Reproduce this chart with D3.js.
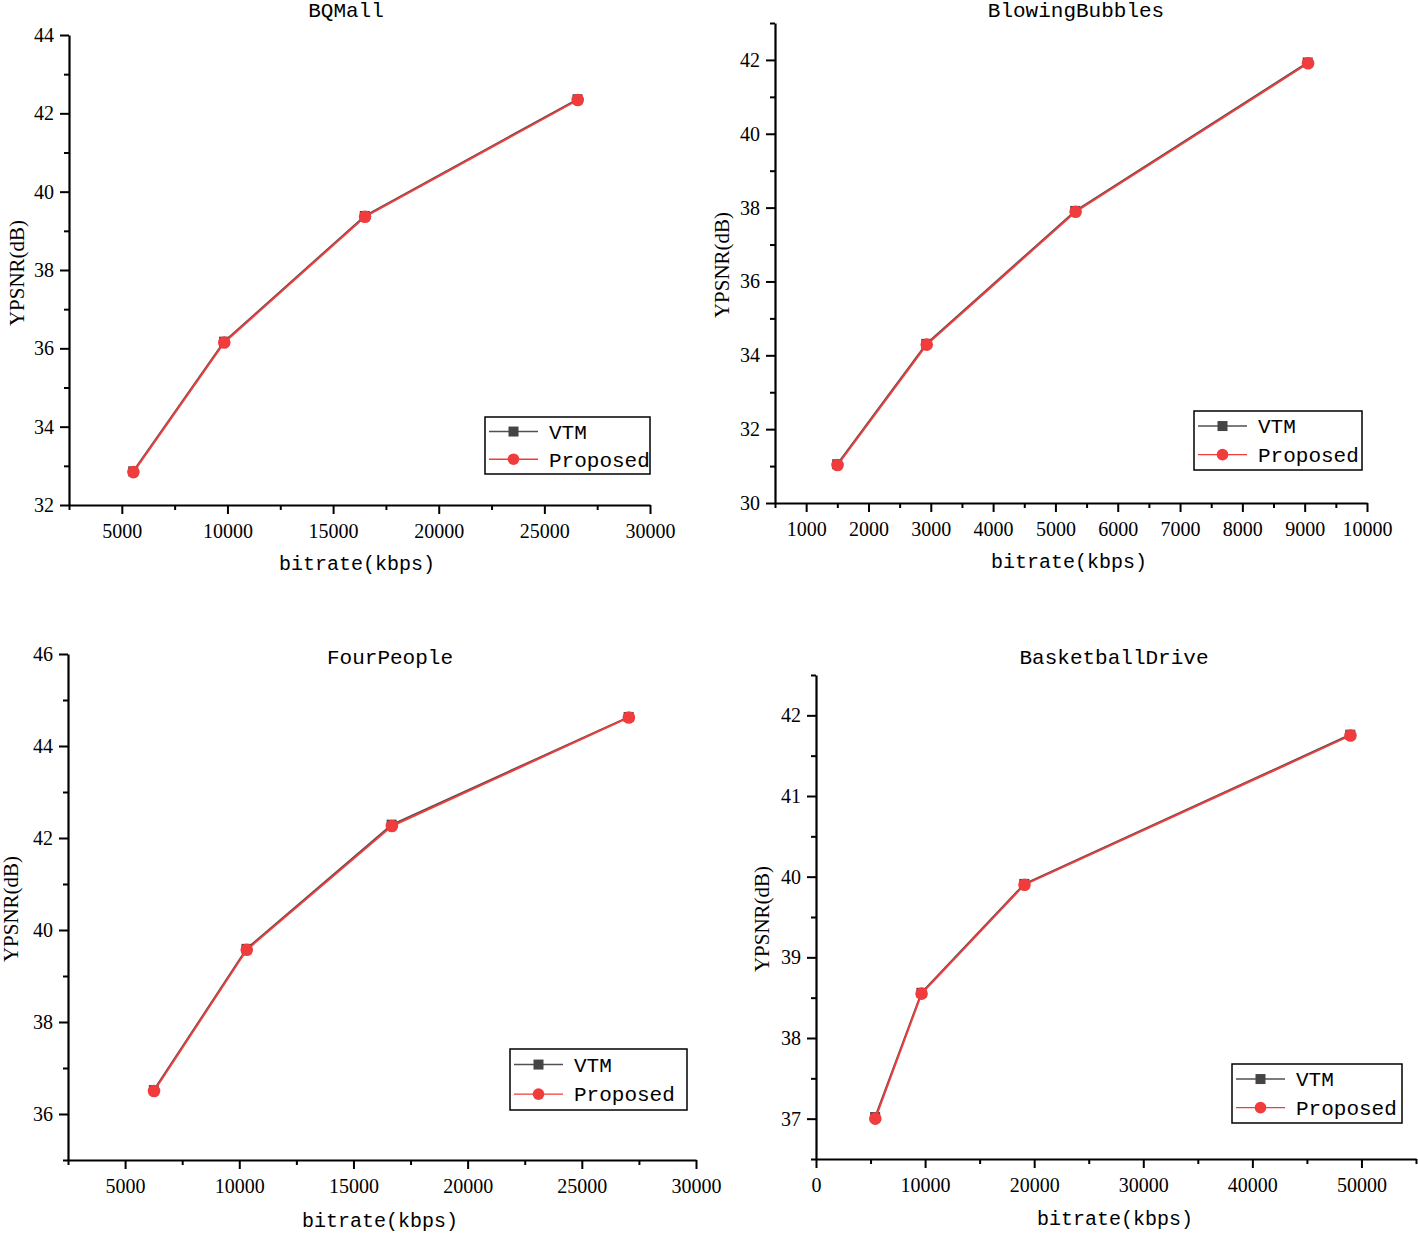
<!DOCTYPE html>
<html>
<head>
<meta charset="utf-8">
<script src="https://cdn.jsdelivr.net/npm/d3@7"></script>
<style>
  html, body { margin: 0; padding: 0; background: #fff; }
  svg { display: block; }
</style>
</head>
<body>
<svg id="chart" width="1418" height="1233"></svg>
<script>
// ---------------- DATA ----------------
const seriesNames = ["VTM", "Proposed"];

// BQMall
const bqmallBitrateVTM = [5540, 9840, 16500, 26570];
const bqmallPsnrVTM = [32.86, 36.17, 39.38, 42.36];
const bqmallBitrateProp = [5548, 9849, 16512, 26579];
const bqmallPsnrProp = [32.84, 36.15, 39.36, 42.34];
const bqmallXTicks = [5000, 10000, 15000, 20000, 25000, 30000];
const bqmallXMinor = [2500, 7500, 12500, 17500, 22500, 27500];
const bqmallYTicks = [32, 34, 36, 38, 40, 42, 44];
const bqmallYMinor = [33, 35, 37, 39, 41, 43];

// BlowingBubbles
const bubblesBitrateVTM = [1498, 2928, 5318, 9048];
const bubblesPsnrVTM = [31.05, 34.31, 37.91, 41.93];
const bubblesBitrateProp = [1504, 2935, 5324, 9054];
const bubblesPsnrProp = [31.03, 34.29, 37.89, 41.91];
const bubblesXTicks = [1000, 2000, 3000, 4000, 5000, 6000, 7000, 8000, 9000, 10000];
const bubblesXMinor = [500, 1500, 2500, 3500, 4500, 5500, 6500, 7500, 8500, 9500];
const bubblesYTicks = [30, 32, 34, 36, 38, 40, 42];
const bubblesYMinor = [31, 33, 35, 37, 39, 41, 43];

// FourPeople
const fourBitrateVTM = [6260, 10318, 16672, 27050];
const fourPsnrVTM = [36.52, 39.59, 42.29, 44.63];
const fourBitrateProp = [6267, 10327, 16683, 27060];
const fourPsnrProp = [36.50, 39.57, 42.26, 44.62];
const fourXTicks = [5000, 10000, 15000, 20000, 25000, 30000];
const fourXMinor = [2500, 7500, 12500, 17500, 22500, 27500];
const fourYTicks = [36, 38, 40, 42, 44, 46];
const fourYMinor = [35, 37, 39, 41, 43, 45];

// BasketballDrive
const basketBitrateVTM = [5420, 9665, 19095, 48975];
const basketPsnrVTM = [37.02, 38.56, 39.91, 41.76];
const basketBitrateProp = [5435, 9679, 19111, 48992];
const basketPsnrProp = [37.00, 38.55, 39.90, 41.75];
const basketXTicks = [0, 10000, 20000, 30000, 40000, 50000];
const basketXMinor = [5000, 15000, 25000, 35000, 45000, 55000];
const basketYTicks = [37, 38, 39, 40, 41, 42];
const basketYMinor = [36.5, 37.5, 38.5, 39.5, 40.5, 41.5, 42.5];

// ---------------- LAYOUT ----------------
const panels = [
  { title: "BQMall", xDomain: [2500, 30000], yDomain: [32, 44],
    left: 69, right: 650, top: 35, bottom: 505,
    titleX: 346, titleY: 17, xLabelX: 357, xLabelY: 570, yLabelX: 24, yLabelY: 273,
    legend: { x: 485, y: 417, w: 165, h: 57 },
    vtm: [bqmallBitrateVTM, bqmallPsnrVTM], prop: [bqmallBitrateProp, bqmallPsnrProp],
    xTicks: bqmallXTicks, xMinor: bqmallXMinor, yTicks: bqmallYTicks, yMinor: bqmallYMinor },
  { title: "BlowingBubbles", xDomain: [500, 10000], yDomain: [30, 43],
    left: 775, right: 1367, top: 23, bottom: 503,
    titleX: 1076, titleY: 17, xLabelX: 1069, xLabelY: 568, yLabelX: 729, yLabelY: 265,
    legend: { x: 1194, y: 411, w: 168, h: 59 },
    vtm: [bubblesBitrateVTM, bubblesPsnrVTM], prop: [bubblesBitrateProp, bubblesPsnrProp],
    xTicks: bubblesXTicks, xMinor: bubblesXMinor, yTicks: bubblesYTicks, yMinor: bubblesYMinor },
  { title: "FourPeople", xDomain: [2500, 30000], yDomain: [35, 46],
    left: 68, right: 696, top: 654, bottom: 1160,
    titleX: 390, titleY: 664, xLabelX: 380, xLabelY: 1227, yLabelX: 18, yLabelY: 909,
    legend: { x: 510, y: 1049, w: 177, h: 61 },
    vtm: [fourBitrateVTM, fourPsnrVTM], prop: [fourBitrateProp, fourPsnrProp],
    xTicks: fourXTicks, xMinor: fourXMinor, yTicks: fourYTicks, yMinor: fourYMinor },
  { title: "BasketballDrive", xDomain: [0, 55000], yDomain: [36.5, 42.5],
    left: 816, right: 1416, top: 675, bottom: 1159,
    titleX: 1114, titleY: 664, xLabelX: 1115, xLabelY: 1225, yLabelX: 769, yLabelY: 919,
    legend: { x: 1232, y: 1064, w: 170, h: 59 },
    vtm: [basketBitrateVTM, basketPsnrVTM], prop: [basketBitrateProp, basketPsnrProp],
    xTicks: basketXTicks, xMinor: basketXMinor, yTicks: basketYTicks, yMinor: basketYMinor }
];

const VTM_COLOR = "#505050";
const VTM_MARK = "#444444";
const PROP_COLOR = "#f03c3c";
const MONO = "'Liberation Mono', 'DejaVu Sans Mono', monospace";
const SERIF = "'Liberation Serif', 'DejaVu Serif', serif";

const svg = d3.select("#chart");

panels.forEach(p => {
  const g = svg.append("g");
  const x = d3.scaleLinear().domain(p.xDomain).range([p.left, p.right]);
  const y = d3.scaleLinear().domain(p.yDomain).range([p.bottom, p.top]);

  // minor ticks
  g.append("g").attr("transform", `translate(0,${p.bottom})`)
    .call(d3.axisBottom(x).tickValues(p.xMinor).tickSize(5).tickFormat(""))
    .call(s => s.select(".domain").remove())
    .call(s => s.selectAll("line").attr("stroke", "#000").attr("stroke-width", 2));
  g.append("g").attr("transform", `translate(${p.left},0)`)
    .call(d3.axisLeft(y).tickValues(p.yMinor).tickSize(5).tickFormat(""))
    .call(s => s.select(".domain").remove())
    .call(s => s.selectAll("line").attr("stroke", "#000").attr("stroke-width", 2));

  // major axes
  const xa = g.append("g").attr("transform", `translate(0,${p.bottom})`)
    .call(d3.axisBottom(x).tickValues(p.xTicks).tickSize(9).tickSizeOuter(0).tickPadding(10).tickFormat(d3.format("d")));
  const ya = g.append("g").attr("transform", `translate(${p.left},0)`)
    .call(d3.axisLeft(y).tickValues(p.yTicks).tickSize(9).tickSizeOuter(0).tickPadding(6).tickFormat(d3.format("d")));
  [xa, ya].forEach(a => {
    a.select(".domain").attr("stroke", "#000").attr("stroke-width", 2.2);
    a.selectAll("line").attr("stroke", "#000").attr("stroke-width", 2);
    a.selectAll("text").attr("font-family", SERIF).attr("font-size", 20).attr("fill", "#000");
  });

  // titles and labels
  g.append("text").attr("x", p.titleX).attr("y", p.titleY).attr("text-anchor", "middle")
    .attr("font-family", MONO).attr("font-size", 21).attr("fill", "#000").text(p.title);
  g.append("text").attr("x", p.xLabelX).attr("y", p.xLabelY).attr("text-anchor", "middle")
    .attr("font-family", MONO).attr("font-size", 20).attr("fill", "#000").text("bitrate(kbps)");
  g.append("text").attr("transform", `translate(${p.yLabelX},${p.yLabelY}) rotate(-90)`)
    .attr("text-anchor", "middle").attr("font-family", SERIF).attr("font-size", 21).attr("fill", "#000")
    .text("YPSNR(dB)");

  // series
  const vtmPts = p.vtm[0].map((b, i) => [b, p.vtm[1][i]]);
  const propPts = p.prop[0].map((b, i) => [b, p.prop[1][i]]);
  const line = d3.line().x(d => x(d[0])).y(d => y(d[1]));

  g.append("path").datum(vtmPts).attr("d", line).attr("fill", "none")
    .attr("stroke", VTM_COLOR).attr("stroke-width", 1.8);
  g.selectAll(".sq").data(vtmPts).join("rect")
    .attr("x", d => x(d[0]) - 5).attr("y", d => y(d[1]) - 5)
    .attr("width", 10).attr("height", 10).attr("fill", VTM_MARK);

  g.append("path").datum(propPts).attr("d", line).attr("fill", "none")
    .attr("stroke", PROP_COLOR).attr("stroke-width", 1.9);
  g.selectAll(".ci").data(propPts).join("circle")
    .attr("cx", d => x(d[0])).attr("cy", d => y(d[1])).attr("r", 6.3).attr("fill", PROP_COLOR);

  // legend
  const L = p.legend;
  const lg = g.append("g").attr("transform", `translate(${L.x},${L.y})`);
  lg.append("rect").attr("x", 0).attr("y", 0).attr("width", L.w).attr("height", L.h)
    .attr("fill", "#fff").attr("stroke", "#000").attr("stroke-width", 1.5);
  const rowY = [L.h * 0.255, L.h * 0.74];
  seriesNames.forEach((name, i) => {
    const col = i === 0 ? VTM_COLOR : PROP_COLOR;
    lg.append("line").attr("x1", 4).attr("x2", 53).attr("y1", rowY[i]).attr("y2", rowY[i])
      .attr("stroke", col).attr("stroke-width", 1.4);
    if (i === 0) {
      lg.append("rect").attr("x", 28.5 - 5).attr("y", rowY[i] - 5).attr("width", 10).attr("height", 10)
        .attr("fill", VTM_MARK);
    } else {
      lg.append("circle").attr("cx", 28.5).attr("cy", rowY[i]).attr("r", 5.8).attr("fill", PROP_COLOR);
    }
    lg.append("text").attr("x", 64).attr("y", rowY[i]).attr("dy", "0.35em")
      .attr("font-family", MONO).attr("font-size", 21).attr("fill", "#000").text(name);
  });
});
</script>
</body>
</html>
